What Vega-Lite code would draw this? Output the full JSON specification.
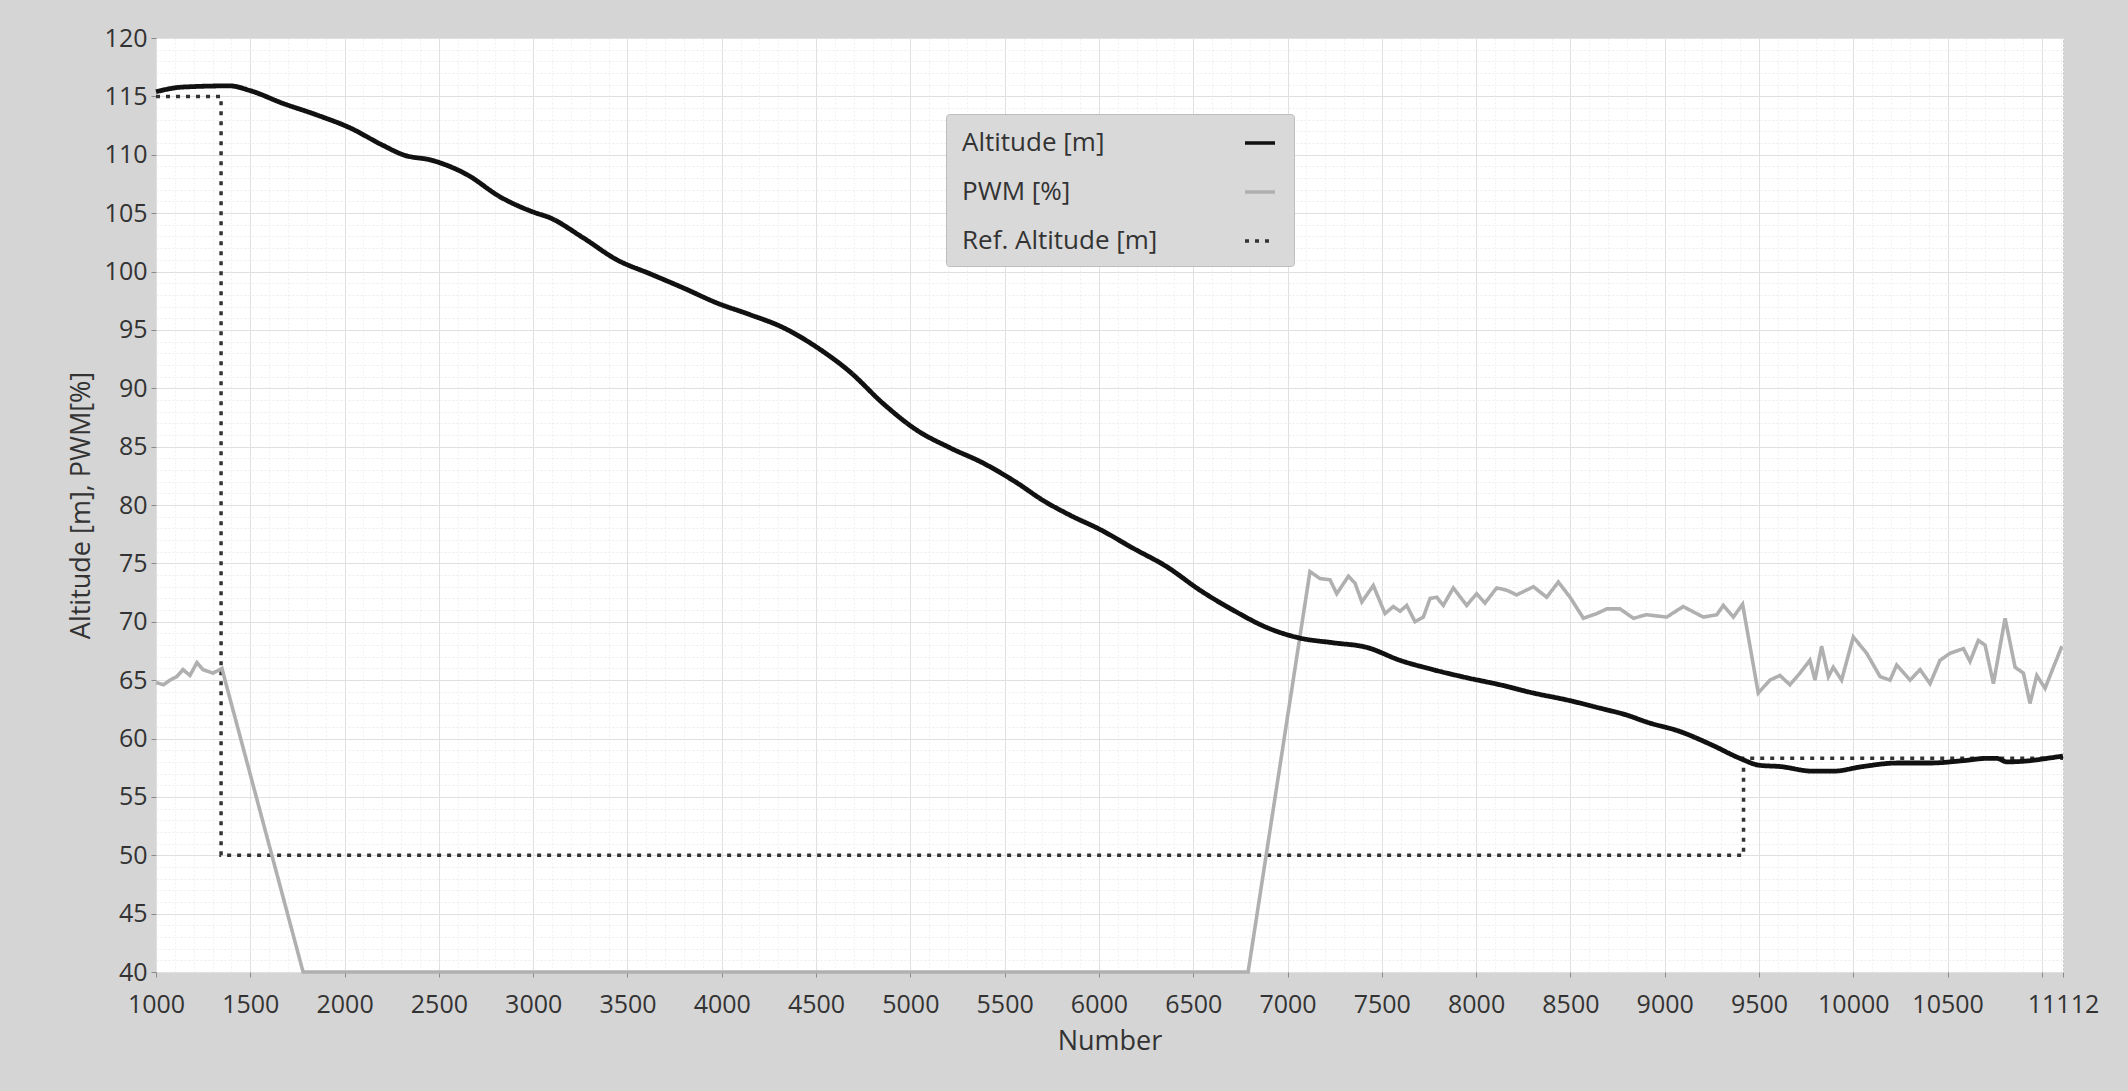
{
  "$schema": "https://vega.github.io/schema/vega-lite/v6.json",
  "width": 1907,
  "height": 934,
  "autosize": {"type": "none"},
  "padding": {"left": 156, "top": 38, "right": 65, "bottom": 119},
  "background": "#d5d5d5",
  "config": {
    "view": {"fill": "#ffffff", "stroke": "#c2c2c2", "strokeWidth": 1},
    "font": "Open Sans",
    "axis": {
      "labelFont": "Open Sans",
      "labelFontSize": 25,
      "labelColor": "#333333",
      "titleFont": "Open Sans",
      "titleFontSize": 27,
      "titleFontWeight": "normal",
      "titleColor": "#333333",
      "domain": false,
      "tickColor": "#8a8a8a",
      "labelOverlap": false,
      "labelBound": false,
      "labelFlush": false
    }
  },
  "data": {
    "values": [
      {"s": "Ref. Altitude [m]", "k": 1, "n": 1000, "v": 115},
      {"s": "Ref. Altitude [m]", "k": 2, "n": 1345, "v": 115},
      {"s": "Ref. Altitude [m]", "k": 3, "n": 1345, "v": 50},
      {"s": "Ref. Altitude [m]", "k": 4, "n": 9418, "v": 50},
      {"s": "Ref. Altitude [m]", "k": 5, "n": 9418, "v": 58.3},
      {"s": "Ref. Altitude [m]", "k": 6, "n": 11112, "v": 58.3},

      {"s": "PWM [%]", "n": 1000, "v": 64.8},
      {"s": "PWM [%]", "n": 1040, "v": 64.6},
      {"s": "PWM [%]", "n": 1074, "v": 65.0},
      {"s": "PWM [%]", "n": 1110, "v": 65.3},
      {"s": "PWM [%]", "n": 1143, "v": 65.9},
      {"s": "PWM [%]", "n": 1180, "v": 65.4},
      {"s": "PWM [%]", "n": 1217, "v": 66.5},
      {"s": "PWM [%]", "n": 1249, "v": 65.9},
      {"s": "PWM [%]", "n": 1302, "v": 65.6},
      {"s": "PWM [%]", "n": 1350, "v": 66.0},
      {"s": "PWM [%]", "n": 1366, "v": 65.0},
      {"s": "PWM [%]", "n": 1780, "v": 40},
      {"s": "PWM [%]", "n": 6791, "v": 40},
      {"s": "PWM [%]", "n": 7119, "v": 74.3},
      {"s": "PWM [%]", "n": 7172, "v": 73.7},
      {"s": "PWM [%]", "n": 7225, "v": 73.6},
      {"s": "PWM [%]", "n": 7261, "v": 72.4},
      {"s": "PWM [%]", "n": 7323, "v": 73.9},
      {"s": "PWM [%]", "n": 7358, "v": 73.3},
      {"s": "PWM [%]", "n": 7394, "v": 71.7},
      {"s": "PWM [%]", "n": 7455, "v": 73.1},
      {"s": "PWM [%]", "n": 7517, "v": 70.7},
      {"s": "PWM [%]", "n": 7561, "v": 71.3},
      {"s": "PWM [%]", "n": 7597, "v": 70.9},
      {"s": "PWM [%]", "n": 7632, "v": 71.4},
      {"s": "PWM [%]", "n": 7676, "v": 70.0},
      {"s": "PWM [%]", "n": 7720, "v": 70.4},
      {"s": "PWM [%]", "n": 7756, "v": 72.0},
      {"s": "PWM [%]", "n": 7791, "v": 72.1},
      {"s": "PWM [%]", "n": 7826, "v": 71.4},
      {"s": "PWM [%]", "n": 7879, "v": 72.9},
      {"s": "PWM [%]", "n": 7950, "v": 71.4},
      {"s": "PWM [%]", "n": 8003, "v": 72.4},
      {"s": "PWM [%]", "n": 8047, "v": 71.6},
      {"s": "PWM [%]", "n": 8109, "v": 72.9},
      {"s": "PWM [%]", "n": 8162, "v": 72.7},
      {"s": "PWM [%]", "n": 8215, "v": 72.3},
      {"s": "PWM [%]", "n": 8304, "v": 73.0},
      {"s": "PWM [%]", "n": 8374, "v": 72.1},
      {"s": "PWM [%]", "n": 8436, "v": 73.4},
      {"s": "PWM [%]", "n": 8498, "v": 72.1},
      {"s": "PWM [%]", "n": 8569, "v": 70.3},
      {"s": "PWM [%]", "n": 8640, "v": 70.7},
      {"s": "PWM [%]", "n": 8693, "v": 71.1},
      {"s": "PWM [%]", "n": 8763, "v": 71.1},
      {"s": "PWM [%]", "n": 8834, "v": 70.3},
      {"s": "PWM [%]", "n": 8904, "v": 70.6},
      {"s": "PWM [%]", "n": 9010, "v": 70.4},
      {"s": "PWM [%]", "n": 9098, "v": 71.3},
      {"s": "PWM [%]", "n": 9205, "v": 70.4},
      {"s": "PWM [%]", "n": 9276, "v": 70.6},
      {"s": "PWM [%]", "n": 9311, "v": 71.4},
      {"s": "PWM [%]", "n": 9364, "v": 70.4},
      {"s": "PWM [%]", "n": 9413, "v": 71.5},
      {"s": "PWM [%]", "n": 9496, "v": 63.9},
      {"s": "PWM [%]", "n": 9558, "v": 65.0},
      {"s": "PWM [%]", "n": 9611, "v": 65.4},
      {"s": "PWM [%]", "n": 9664, "v": 64.6},
      {"s": "PWM [%]", "n": 9717, "v": 65.6},
      {"s": "PWM [%]", "n": 9770, "v": 66.7},
      {"s": "PWM [%]", "n": 9797, "v": 65.0},
      {"s": "PWM [%]", "n": 9832, "v": 67.9},
      {"s": "PWM [%]", "n": 9868, "v": 65.3},
      {"s": "PWM [%]", "n": 9894, "v": 66.1},
      {"s": "PWM [%]", "n": 9938, "v": 65.0},
      {"s": "PWM [%]", "n": 10000, "v": 68.7},
      {"s": "PWM [%]", "n": 10071, "v": 67.3},
      {"s": "PWM [%]", "n": 10142, "v": 65.3},
      {"s": "PWM [%]", "n": 10195, "v": 65.0},
      {"s": "PWM [%]", "n": 10230, "v": 66.3},
      {"s": "PWM [%]", "n": 10301, "v": 65.0},
      {"s": "PWM [%]", "n": 10354, "v": 65.9},
      {"s": "PWM [%]", "n": 10407, "v": 64.7},
      {"s": "PWM [%]", "n": 10460, "v": 66.7},
      {"s": "PWM [%]", "n": 10513, "v": 67.3},
      {"s": "PWM [%]", "n": 10584, "v": 67.7},
      {"s": "PWM [%]", "n": 10619, "v": 66.6},
      {"s": "PWM [%]", "n": 10663, "v": 68.4},
      {"s": "PWM [%]", "n": 10699, "v": 68.0},
      {"s": "PWM [%]", "n": 10743, "v": 64.7},
      {"s": "PWM [%]", "n": 10805, "v": 70.3},
      {"s": "PWM [%]", "n": 10858, "v": 66.1},
      {"s": "PWM [%]", "n": 10902, "v": 65.6},
      {"s": "PWM [%]", "n": 10937, "v": 63.0},
      {"s": "PWM [%]", "n": 10973, "v": 65.4},
      {"s": "PWM [%]", "n": 11017, "v": 64.3},
      {"s": "PWM [%]", "n": 11061, "v": 66.1},
      {"s": "PWM [%]", "n": 11106, "v": 67.9},

      {"s": "Altitude [m]", "n": 1000, "v": 115.4},
      {"s": "Altitude [m]", "n": 1143, "v": 115.8},
      {"s": "Altitude [m]", "n": 1392, "v": 115.9},
      {"s": "Altitude [m]", "n": 1498, "v": 115.5},
      {"s": "Altitude [m]", "n": 1673, "v": 114.4},
      {"s": "Altitude [m]", "n": 1854, "v": 113.4},
      {"s": "Altitude [m]", "n": 2029, "v": 112.3},
      {"s": "Altitude [m]", "n": 2204, "v": 110.8},
      {"s": "Altitude [m]", "n": 2310, "v": 110.0},
      {"s": "Altitude [m]", "n": 2469, "v": 109.5},
      {"s": "Altitude [m]", "n": 2649, "v": 108.3},
      {"s": "Altitude [m]", "n": 2824, "v": 106.4},
      {"s": "Altitude [m]", "n": 2999, "v": 105.1},
      {"s": "Altitude [m]", "n": 3089, "v": 104.6},
      {"s": "Altitude [m]", "n": 3264, "v": 102.9},
      {"s": "Altitude [m]", "n": 3444, "v": 101.0},
      {"s": "Altitude [m]", "n": 3620, "v": 99.8},
      {"s": "Altitude [m]", "n": 3795, "v": 98.6},
      {"s": "Altitude [m]", "n": 3975, "v": 97.3},
      {"s": "Altitude [m]", "n": 4150, "v": 96.3},
      {"s": "Altitude [m]", "n": 4325, "v": 95.2},
      {"s": "Altitude [m]", "n": 4505, "v": 93.5},
      {"s": "Altitude [m]", "n": 4680, "v": 91.4},
      {"s": "Altitude [m]", "n": 4855, "v": 88.7},
      {"s": "Altitude [m]", "n": 5035, "v": 86.4},
      {"s": "Altitude [m]", "n": 5210, "v": 84.9},
      {"s": "Altitude [m]", "n": 5385, "v": 83.6},
      {"s": "Altitude [m]", "n": 5565, "v": 81.9},
      {"s": "Altitude [m]", "n": 5703, "v": 80.4},
      {"s": "Altitude [m]", "n": 5850, "v": 79.1},
      {"s": "Altitude [m]", "n": 6006, "v": 77.9},
      {"s": "Altitude [m]", "n": 6181, "v": 76.3},
      {"s": "Altitude [m]", "n": 6361, "v": 74.7},
      {"s": "Altitude [m]", "n": 6536, "v": 72.7},
      {"s": "Altitude [m]", "n": 6711, "v": 71.0},
      {"s": "Altitude [m]", "n": 6891, "v": 69.5},
      {"s": "Altitude [m]", "n": 7066, "v": 68.6},
      {"s": "Altitude [m]", "n": 7241, "v": 68.2},
      {"s": "Altitude [m]", "n": 7421, "v": 67.8},
      {"s": "Altitude [m]", "n": 7596, "v": 66.7},
      {"s": "Altitude [m]", "n": 7771, "v": 65.9},
      {"s": "Altitude [m]", "n": 7952, "v": 65.2},
      {"s": "Altitude [m]", "n": 8127, "v": 64.6},
      {"s": "Altitude [m]", "n": 8302, "v": 63.9},
      {"s": "Altitude [m]", "n": 8482, "v": 63.3},
      {"s": "Altitude [m]", "n": 8657, "v": 62.6},
      {"s": "Altitude [m]", "n": 8800, "v": 62.0},
      {"s": "Altitude [m]", "n": 8906, "v": 61.4},
      {"s": "Altitude [m]", "n": 9081, "v": 60.6},
      {"s": "Altitude [m]", "n": 9256, "v": 59.4},
      {"s": "Altitude [m]", "n": 9399, "v": 58.3},
      {"s": "Altitude [m]", "n": 9505, "v": 57.7},
      {"s": "Altitude [m]", "n": 9611, "v": 57.6},
      {"s": "Altitude [m]", "n": 9786, "v": 57.2},
      {"s": "Altitude [m]", "n": 9892, "v": 57.2},
      {"s": "Altitude [m]", "n": 10051, "v": 57.6},
      {"s": "Altitude [m]", "n": 10232, "v": 57.9},
      {"s": "Altitude [m]", "n": 10407, "v": 57.9},
      {"s": "Altitude [m]", "n": 10582, "v": 58.1},
      {"s": "Altitude [m]", "n": 10709, "v": 58.3},
      {"s": "Altitude [m]", "n": 10760, "v": 58.3},
      {"s": "Altitude [m]", "n": 10815, "v": 58.0},
      {"s": "Altitude [m]", "n": 10937, "v": 58.1},
      {"s": "Altitude [m]", "n": 11027, "v": 58.3},
      {"s": "Altitude [m]", "n": 11112, "v": 58.5}
    ]
  },
  "encoding": {
    "x": {
      "field": "n",
      "type": "quantitative",
      "title": "Number",
      "scale": {"domain": [1000, 11112], "nice": false, "zero": false},
      "axis": {
        "format": "d",
        "values": [1000,1100,1200,1300,1400,1500,1600,1700,1800,1900,2000,2100,2200,2300,2400,2500,2600,2700,2800,2900,3000,3100,3200,3300,3400,3500,3600,3700,3800,3900,4000,4100,4200,4300,4400,4500,4600,4700,4800,4900,5000,5100,5200,5300,5400,5500,5600,5700,5800,5900,6000,6100,6200,6300,6400,6500,6600,6700,6800,6900,7000,7100,7200,7300,7400,7500,7600,7700,7800,7900,8000,8100,8200,8300,8400,8500,8600,8700,8800,8900,9000,9100,9200,9300,9400,9500,9600,9700,9800,9900,10000,10100,10200,10300,10400,10500,10600,10700,10800,10900,11000,11100,11112],
        "labelExpr": "((datum.value % 500 === 0 && datum.value !== 11000) || datum.value === 11112) ? datum.label : ''",
        "gridColor": {"condition": {"test": "datum.value % 500 === 0", "value": "#e0e0e0"}, "value": "#f0f0f0"},
        "gridDash": {"condition": {"test": "datum.value % 500 === 0", "value": []}, "value": [2, 2]},
        "tickSize": {"condition": {"test": "datum.value % 500 === 0 || datum.value === 11112", "value": 5}, "value": 0},
        "labelPadding": 15,
        "titlePadding": 11
      }
    },
    "y": {
      "field": "v",
      "type": "quantitative",
      "title": "Altitude [m], PWM[%]",
      "scale": {"domain": [40, 120], "nice": false, "zero": false},
      "axis": {
        "values": [40,41,42,43,44,45,46,47,48,49,50,51,52,53,54,55,56,57,58,59,60,61,62,63,64,65,66,67,68,69,70,71,72,73,74,75,76,77,78,79,80,81,82,83,84,85,86,87,88,89,90,91,92,93,94,95,96,97,98,99,100,101,102,103,104,105,106,107,108,109,110,111,112,113,114,115,116,117,118,119,120],
        "labelExpr": "datum.value % 5 === 0 ? datum.label : ''",
        "gridColor": {"condition": {"test": "datum.value % 5 === 0", "value": "#e0e0e0"}, "value": "#ececec"},
        "gridDash": {"condition": {"test": "datum.value % 5 === 0", "value": []}, "value": [2, 2]},
        "tickSize": {"condition": {"test": "datum.value % 5 === 0", "value": 5}, "value": 0},
        "labelPadding": 4,
        "titlePadding": 9
      }
    },
    "color": {
      "field": "s",
      "type": "nominal",
      "scale": {
        "domain": ["Altitude [m]", "PWM [%]", "Ref. Altitude [m]"],
        "range": ["#111111", "#b0b0b0", "#333333"]
      },
      "legend": {
        "title": null,
        "orient": "none",
        "legendX": 790,
        "legendY": 76,
        "fillColor": "#d9d9d9",
        "strokeColor": "#bdbdbd",
        "cornerRadius": 3,
        "padding": 12,
        "labelFont": "Open Sans",
        "labelFontSize": 26,
        "labelColor": "#333333",
        "labelLimit": 400,
        "symbolType": "stroke",
        "symbolSize": 900,
        "symbolStrokeWidth": 3.5,
        "symbolOffset": 285,
        "labelOffset": -315,
        "rowPadding": 19
      }
    },
    "strokeDash": {
      "field": "s",
      "type": "nominal",
      "scale": {
        "domain": ["Altitude [m]", "PWM [%]", "Ref. Altitude [m]"],
        "range": [[1, 0], [1, 0], [4, 6]]
      }
    }
  },
  "layer": [
    {
      "transform": [{"filter": "datum.s === 'Ref. Altitude [m]'"}],
      "mark": {"type": "line", "strokeWidth": 3.5, "clip": false},
      "encoding": {"order": {"field": "k", "type": "quantitative"}}
    },
    {
      "transform": [{"filter": "datum.s === 'PWM [%]'"}],
      "mark": {"type": "line", "strokeWidth": 3.6, "clip": false},
      "encoding": {}
    },
    {
      "transform": [{"filter": "datum.s === 'Altitude [m]'"}],
      "mark": {"type": "line", "strokeWidth": 4.8, "interpolate": "monotone", "clip": false},
      "encoding": {}
    }
  ]
}
